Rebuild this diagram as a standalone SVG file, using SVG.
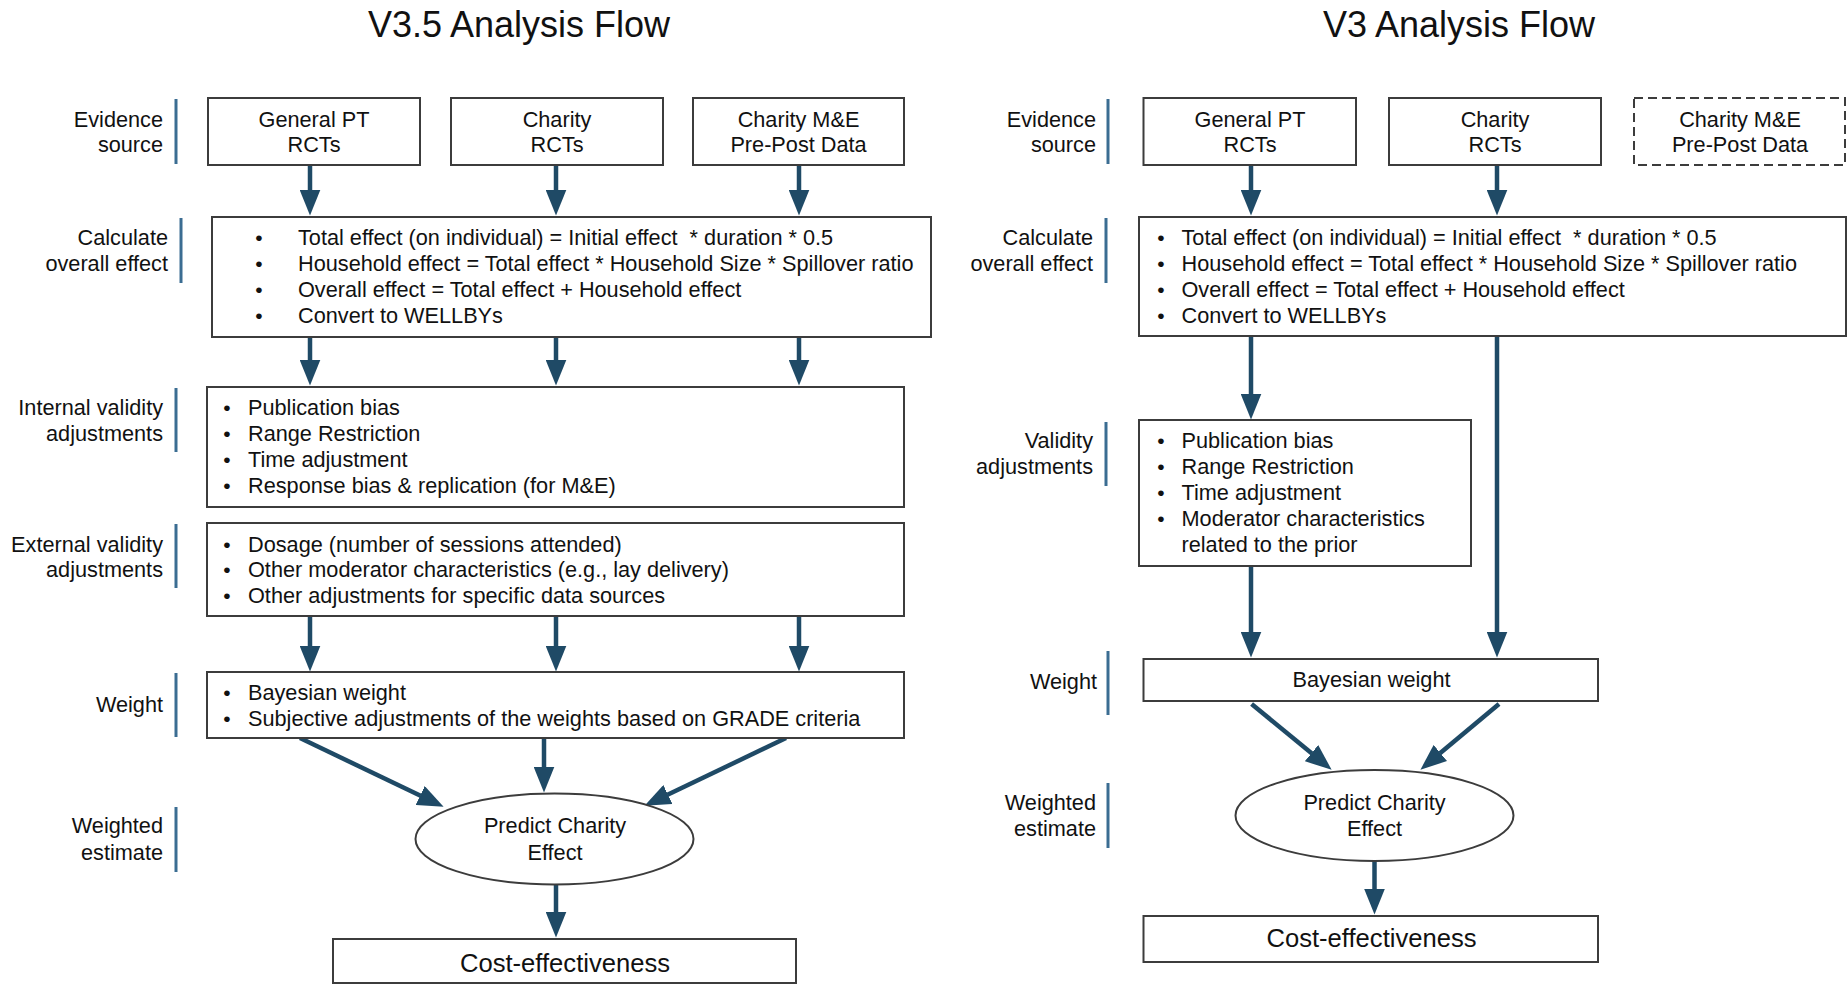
<svg xmlns="http://www.w3.org/2000/svg" width="1847" height="985" viewBox="0 0 1847 985">
<defs>
<marker id="ah" markerUnits="userSpaceOnUse" markerWidth="26" markerHeight="21" viewBox="0 0 26 21" refX="0.5" refY="10.5" orient="auto">
<path d="M0,0 L26,10.5 L0,21 z" fill="#1f4a66"/>
</marker>
<style>
text{font-family:"Liberation Sans",Arial,sans-serif;fill:#111;}
.t{font-size:36px;text-anchor:middle;}
.b{font-size:21.7px;}
.c{font-size:21.7px;text-anchor:middle;}
.lab{font-size:21.7px;text-anchor:end;}
.ce{font-size:25.6px;text-anchor:middle;}
.bx{fill:#fff;stroke:#3c3c3c;stroke-width:2;}
.dash{fill:#fff;stroke:#3c3c3c;stroke-width:2;stroke-dasharray:9,5;}
.bar{stroke:#3b6d92;stroke-width:3;}
.ar{stroke:#1f4a66;stroke-width:4.5;fill:none;marker-end:url(#ah);}
.bu{font-size:21px;text-anchor:middle;}
</style>
</defs>
<rect width="1847" height="985" fill="#fff"/>

<g id="titles">
<text class="t" x="519" y="37">V3.5 Analysis Flow</text>
<text class="t" x="1459" y="37">V3 Analysis Flow</text>
</g>

<g id="labels-left">
<line class="bar" x1="176" y1="99" x2="176" y2="164"/>
<text class="lab" x="163" y="127">Evidence</text><text class="lab" x="163" y="152">source</text>
<line class="bar" x1="181" y1="218" x2="181" y2="283"/>
<text class="lab" x="168" y="245">Calculate</text><text class="lab" x="168" y="271">overall effect</text>
<line class="bar" x1="176" y1="388" x2="176" y2="452"/>
<text class="lab" x="163" y="415">Internal validity</text><text class="lab" x="163" y="441">adjustments</text>
<line class="bar" x1="176" y1="524" x2="176" y2="588"/>
<text class="lab" x="163" y="552">External validity</text><text class="lab" x="163" y="577">adjustments</text>
<line class="bar" x1="176" y1="673" x2="176" y2="737"/>
<text class="lab" x="163" y="712">Weight</text>
<line class="bar" x1="176" y1="807" x2="176" y2="872"/>
<text class="lab" x="163" y="833">Weighted</text><text class="lab" x="163" y="860">estimate</text>
</g>

<g id="labels-right">
<line class="bar" x1="1108" y1="99" x2="1108" y2="164"/>
<text class="lab" x="1096" y="127">Evidence</text><text class="lab" x="1096" y="152">source</text>
<line class="bar" x1="1106" y1="218" x2="1106" y2="283"/>
<text class="lab" x="1093" y="245">Calculate</text><text class="lab" x="1093" y="271">overall effect</text>
<line class="bar" x1="1106" y1="422" x2="1106" y2="486"/>
<text class="lab" x="1093" y="448">Validity</text><text class="lab" x="1093" y="474">adjustments</text>
<line class="bar" x1="1108" y1="651" x2="1108" y2="715"/>
<text class="lab" x="1097" y="689">Weight</text>
<line class="bar" x1="1108" y1="783" x2="1108" y2="848"/>
<text class="lab" x="1096" y="810">Weighted</text><text class="lab" x="1096" y="836">estimate</text>
</g>

<g id="connectors">
<line class="ar" x1="310" y1="165" x2="310" y2="190"/>
<line class="ar" x1="556" y1="165" x2="556" y2="190"/>
<line class="ar" x1="799" y1="165" x2="799" y2="190"/>
<line class="ar" x1="310" y1="337" x2="310" y2="360"/>
<line class="ar" x1="556" y1="337" x2="556" y2="360"/>
<line class="ar" x1="799" y1="337" x2="799" y2="360"/>
<line class="ar" x1="310" y1="616" x2="310" y2="646"/>
<line class="ar" x1="556" y1="616" x2="556" y2="646"/>
<line class="ar" x1="799" y1="616" x2="799" y2="646"/>
<line class="ar" x1="300" y1="738" x2="420.6" y2="795.8"/>
<line class="ar" x1="544" y1="738" x2="544" y2="767"/>
<line class="ar" x1="786" y1="738" x2="667.5" y2="794.8"/>
<line class="ar" x1="556" y1="884" x2="556" y2="912"/>
<line class="ar" x1="1251" y1="165" x2="1251" y2="190"/>
<line class="ar" x1="1497" y1="165" x2="1497" y2="190"/>
<line class="ar" x1="1251" y1="337" x2="1251" y2="394"/>
<line class="ar" x1="1497" y1="337" x2="1497" y2="632"/>
<line class="ar" x1="1251" y1="566" x2="1251" y2="632"/>
<line class="ar" x1="1251.6" y1="704" x2="1311.9" y2="753.5"/>
<line class="ar" x1="1499" y1="704" x2="1440" y2="753.3"/>
<line class="ar" x1="1374.5" y1="861" x2="1374.5" y2="889"/>
</g>

<g id="l-src-pt"><rect class="bx" x="208" y="98" width="212" height="67"/><text class="c" x="314" y="127">General PT</text><text class="c" x="314" y="152">RCTs</text></g>
<g id="l-src-charity"><rect class="bx" x="451" y="98" width="212" height="67"/><text class="c" x="557" y="127">Charity</text><text class="c" x="557" y="152">RCTs</text></g>
<g id="l-src-me"><rect class="bx" x="693" y="98" width="211" height="67"/><text class="c" x="798.5" y="127">Charity M&amp;E</text><text class="c" x="798.5" y="152">Pre-Post Data</text></g>

<g id="l-calc"><rect class="bx" x="212" y="217" width="719" height="120"/>
<text class="bu" x="259" y="245">•</text><text class="b" x="298" y="245" xml:space="preserve">Total effect (on individual) = Initial effect  * duration * 0.5</text>
<text class="bu" x="259" y="271">•</text><text class="b" x="298" y="271">Household effect = Total effect * Household Size * Spillover ratio</text>
<text class="bu" x="259" y="297">•</text><text class="b" x="298" y="297">Overall effect = Total effect + Household effect</text>
<text class="bu" x="259" y="323">•</text><text class="b" x="298" y="323">Convert to WELLBYs</text>
</g>

<g id="l-internal"><rect class="bx" x="207" y="387" width="697" height="120"/>
<text class="bu" x="227" y="415">•</text><text class="b" x="248" y="415">Publication bias</text>
<text class="bu" x="227" y="441">•</text><text class="b" x="248" y="441">Range Restriction</text>
<text class="bu" x="227" y="467">•</text><text class="b" x="248" y="467">Time adjustment</text>
<text class="bu" x="227" y="493">•</text><text class="b" x="248" y="493">Response bias &amp; replication (for M&amp;E)</text>
</g>

<g id="l-external"><rect class="bx" x="207" y="523" width="697" height="93"/>
<text class="bu" x="227" y="552">•</text><text class="b" x="248" y="552">Dosage (number of sessions attended)</text>
<text class="bu" x="227" y="577">•</text><text class="b" x="248" y="577">Other moderator characteristics (e.g., lay delivery)</text>
<text class="bu" x="227" y="603">•</text><text class="b" x="248" y="603">Other adjustments for specific data sources</text>
</g>

<g id="l-weight"><rect class="bx" x="207" y="672" width="697" height="66"/>
<text class="bu" x="227" y="700">•</text><text class="b" x="248" y="700">Bayesian weight</text>
<text class="bu" x="227" y="726">•</text><text class="b" x="248" y="726">Subjective adjustments of the weights based on GRADE criteria</text>
</g>

<g id="l-predict"><ellipse class="bx" cx="554.5" cy="839" rx="139" ry="45.5"/><text class="c" x="555" y="833">Predict Charity</text><text class="c" x="555" y="860">Effect</text></g>

<g id="l-ce"><rect class="bx" x="333" y="939" width="463" height="44"/><text class="ce" x="565" y="972">Cost-effectiveness</text></g>

<g id="r-src-pt"><rect class="bx" x="1143.5" y="98" width="212.5" height="67"/><text class="c" x="1250" y="127">General PT</text><text class="c" x="1250" y="152">RCTs</text></g>
<g id="r-src-charity"><rect class="bx" x="1389" y="98" width="212" height="67"/><text class="c" x="1495" y="127">Charity</text><text class="c" x="1495" y="152">RCTs</text></g>
<g id="r-src-me"><rect class="dash" x="1634" y="98" width="211" height="67"/><text class="c" x="1740" y="127">Charity M&amp;E</text><text class="c" x="1740" y="152">Pre-Post Data</text></g>

<g id="r-calc"><rect class="bx" x="1139" y="217" width="707" height="119"/>
<text class="bu" x="1161" y="245">•</text><text class="b" x="1181.5" y="245" xml:space="preserve">Total effect (on individual) = Initial effect  * duration * 0.5</text>
<text class="bu" x="1161" y="271">•</text><text class="b" x="1181.5" y="271">Household effect = Total effect * Household Size * Spillover ratio</text>
<text class="bu" x="1161" y="297">•</text><text class="b" x="1181.5" y="297">Overall effect = Total effect + Household effect</text>
<text class="bu" x="1161" y="323">•</text><text class="b" x="1181.5" y="323">Convert to WELLBYs</text>
</g>

<g id="r-validity"><rect class="bx" x="1139" y="420" width="332" height="146"/>
<text class="bu" x="1161" y="448">•</text><text class="b" x="1181.5" y="448">Publication bias</text>
<text class="bu" x="1161" y="474">•</text><text class="b" x="1181.5" y="474">Range Restriction</text>
<text class="bu" x="1161" y="500">•</text><text class="b" x="1181.5" y="500">Time adjustment</text>
<text class="bu" x="1161" y="526">•</text><text class="b" x="1181.5" y="526">Moderator characteristics</text>
<text class="b" x="1181.5" y="552">related to the prior</text>
</g>

<g id="r-weight"><rect class="bx" x="1143.5" y="659" width="454.5" height="42"/><text class="c" x="1371.5" y="687">Bayesian weight</text></g>

<g id="r-predict"><ellipse class="bx" cx="1374.5" cy="815.5" rx="139" ry="45.5"/><text class="c" x="1374.5" y="810">Predict Charity</text><text class="c" x="1374.5" y="836">Effect</text></g>

<g id="r-ce"><rect class="bx" x="1143.5" y="916" width="454.5" height="46"/><text class="ce" x="1371.5" y="947">Cost-effectiveness</text></g>
</svg>
